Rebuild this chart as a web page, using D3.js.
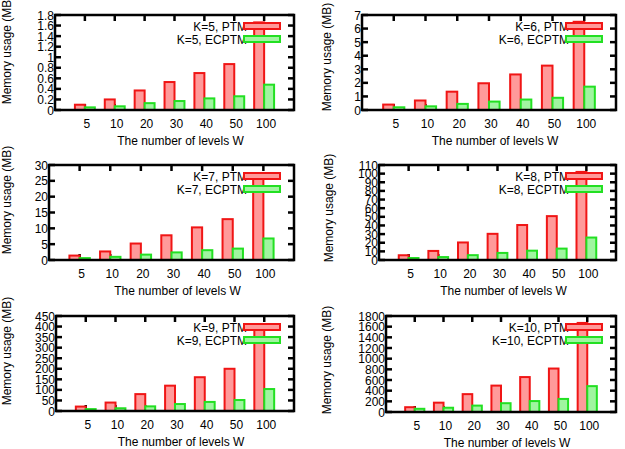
<!DOCTYPE html>
<html>
<head>
<meta charset="utf-8">
<script src="https://cdn.jsdelivr.net/npm/d3@7"></script>
<style>
  body { margin: 0; background: #fff; }
  text { font-family: "Liberation Sans", Arial, sans-serif; fill: #000; }
</style>
</head>
<body>
<div id="my_dataviz"></div>
<script>
// Categories on the x axis (number of levels W)
var levels = ["5", "10", "20", "30", "40", "50", "100"];
var kValues = [5, 6, 7, 8, 9, 10];

// Memory usage (MB) per K
var ptmK5 = [0.10, 0.20, 0.37, 0.53, 0.70, 0.87, 1.66];
var ecptmK5 = [0.05, 0.07, 0.13, 0.17, 0.22, 0.26, 0.48];
var ptmK6 = [0.40, 0.70, 1.35, 1.97, 2.62, 3.27, 6.5];
var ecptmK6 = [0.20, 0.27, 0.45, 0.62, 0.77, 0.90, 1.72];
var ptmK7 = [1.4, 2.7, 5.2, 7.8, 10.3, 12.9, 25.6];
var ecptmK7 = [0.6, 1.0, 1.7, 2.4, 3.1, 3.6, 6.8];
var ptmK8 = [5.5, 10.5, 20.3, 30.3, 40.5, 50.8, 102];
var ecptmK8 = [2.3, 3.4, 5.6, 8.2, 10.8, 13.2, 26];
var ptmK9 = [21, 40, 80, 120, 160, 200, 405];
var ecptmK9 = [9, 13, 22, 33, 43, 52, 104];
var ptmK10 = [90, 175, 335, 495, 655, 815, 1670];
var ecptmK10 = [60, 80, 120, 165, 205, 245, 485];

// y axis range and tick step for each panel
var yMax = [1.8, 7, 30, 110, 450, 1800];
var yStep = [0.2, 1, 5, 10, 50, 200];

var ptm = [ptmK5, ptmK6, ptmK7, ptmK8, ptmK9, ptmK10];
var ecptm = [ecptmK5, ecptmK6, ecptmK7, ecptmK8, ecptmK9, ecptmK10];

// Plot frame of each panel (left, right, top, bottom) and y-label placement
var frames = [
    {l: 55, r: 294, t: 15, b: 110, ylx: 11, yly: 50},
    {l: 362, r: 616, t: 15, b: 110, ylx: 331, yly: 57},
    {l: 49, r: 294, t: 165, b: 260, ylx: 11, yly: 200},
    {l: 379, r: 616, t: 165, b: 260, ylx: 333, yly: 208},
    {l: 56, r: 294, t: 316, b: 411, ylx: 11, yly: 351},
    {l: 386, r: 616, t: 316, b: 412, ylx: 331, yly: 360}
];

var red = {stroke: "#f01515", fill: "#ff9a9a"};
var green = {stroke: "#22e022", fill: "#a0f5a0"};

var svg = d3.select("#my_dataviz")
    .append("svg")
    .attr("width", 625)
    .attr("height", 449);

kValues.forEach((k, i) => drawPanel(i, k));

function drawPanel(i, k) {
    var f = frames[i];
    var g = svg.append("g");

    var x = d3.scaleLinear().domain([-1, 7]).range([f.l, f.r]);
    var y = d3.scaleLinear().domain([0, yMax[i]]).range([f.b, f.t]);
    var bw = x(1 / 3) - x(0);

    var yTicks = d3.range(0, yMax[i] + yStep[i] / 2, yStep[i]).map(v => +v.toFixed(1));

    // tick marks on all four sides (drawn first so bars cover the bottom ones)
    var ticks = g.append("g").attr("stroke", "#000").attr("stroke-width", 2.5);
    yTicks.forEach(v => {
        ticks.append("line").attr("x1", f.l).attr("x2", f.l + 6).attr("y1", y(v)).attr("y2", y(v));
        ticks.append("line").attr("x1", f.r).attr("x2", f.r - 6).attr("y1", y(v)).attr("y2", y(v));
    });
    levels.forEach((d, j) => {
        ticks.append("line").attr("x1", x(j)).attr("x2", x(j)).attr("y1", f.t).attr("y2", f.t + 6);
        ticks.append("line").attr("x1", x(j)).attr("x2", x(j)).attr("y1", f.b).attr("y2", f.b - 6);
    });

    // y tick labels
    g.append("g").selectAll("text")
        .data(yTicks)
        .enter()
        .append("text")
        .attr("x", f.l - 1)
        .attr("y", d => y(d) + 4.5)
        .attr("text-anchor", "end")
        .style("font-size", "12px")
        .text(d => d);

    // x tick labels
    g.append("g").selectAll("text")
        .data(levels)
        .enter()
        .append("text")
        .attr("x", (d, j) => x(j) + 2)
        .attr("y", f.b + 18)
        .attr("text-anchor", "middle")
        .style("font-size", "12px")
        .text(d => d);

    // bars
    var bars = g.append("g").attr("stroke-width", 2);
    bars.selectAll(".ptm")
        .data(ptm[i])
        .enter()
        .append("rect")
        .attr("x", (d, j) => x(j) - bw)
        .attr("y", d => y(d))
        .attr("width", bw)
        .attr("height", d => f.b - y(d))
        .attr("fill", red.fill)
        .attr("stroke", red.stroke);
    bars.selectAll(".ecptm")
        .data(ecptm[i])
        .enter()
        .append("rect")
        .attr("x", (d, j) => x(j))
        .attr("y", d => y(d))
        .attr("width", bw)
        .attr("height", d => f.b - y(d))
        .attr("fill", green.fill)
        .attr("stroke", green.stroke);

    // legend: text first, the swatch sits on top of its end
    var names = ["K=" + k + ", PTM", "K=" + k + ", ECPTM"];
    var styles = [red, green];
    names.forEach((name, j) => {
        var cy = f.t + 11 + j * 13;
        g.append("text")
            .attr("x", f.r - 47)
            .attr("y", cy + 4.5)
            .attr("text-anchor", "end")
            .style("font-size", "12px")
            .text(name);
        g.append("rect")
            .attr("x", f.r - 50)
            .attr("y", cy - 3)
            .attr("width", 36)
            .attr("height", 6)
            .attr("fill", styles[j].fill)
            .attr("stroke", styles[j].stroke)
            .attr("stroke-width", 2);
    });

    // frame
    g.append("rect")
        .attr("x", f.l)
        .attr("y", f.t)
        .attr("width", f.r - f.l)
        .attr("height", f.b - f.t)
        .attr("fill", "none")
        .attr("stroke", "#000")
        .attr("stroke-width", 2.5);

    // axis titles
    g.append("text")
        .attr("transform", "translate(" + f.ylx + "," + f.yly + ") rotate(-90)")
        .attr("text-anchor", "middle")
        .style("font-size", "12px")
        .text("Memory usage (MB)");

    g.append("text")
        .attr("x", (f.l + f.r) / 2 + 6)
        .attr("y", f.b + 35)
        .attr("text-anchor", "middle")
        .style("font-size", "12px")
        .text("The number of levels W");
}
</script>
</body>
</html>
